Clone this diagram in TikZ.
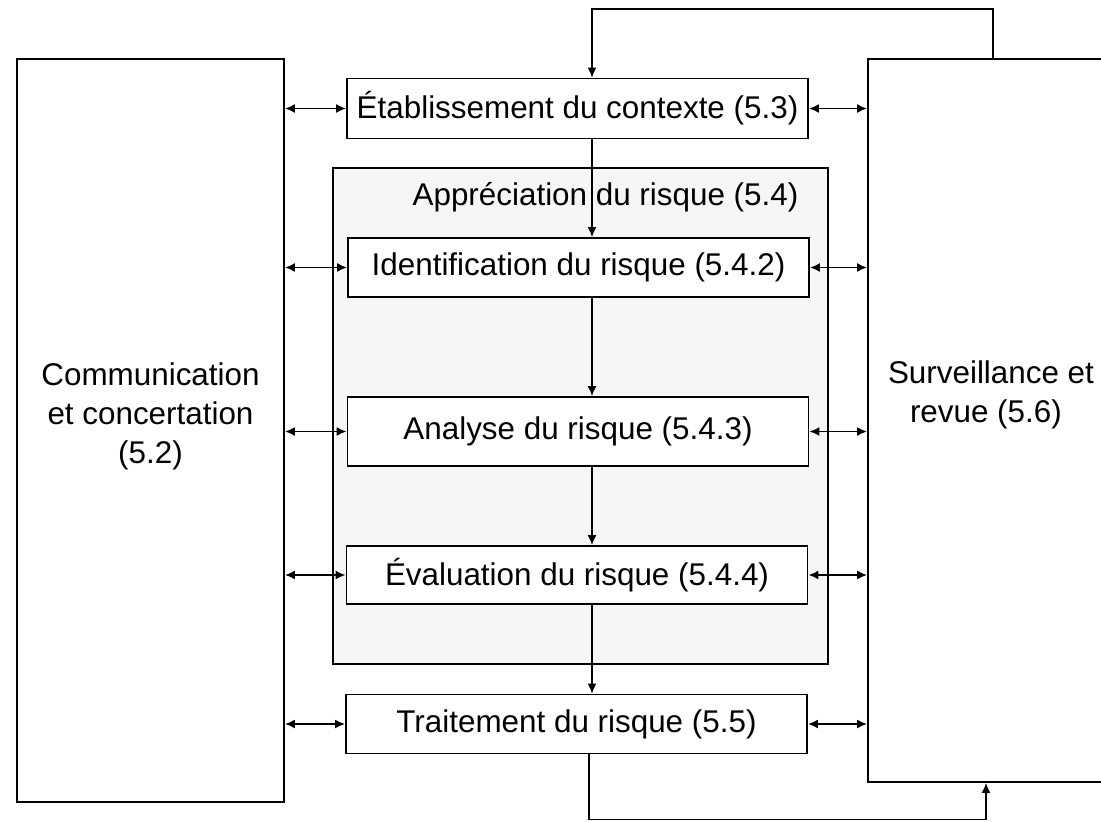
\documentclass[tikz,border=0pt]{standalone}
\usepackage{fontspec}
\setmainfont{Liberation Sans}
\usetikzlibrary{arrows.meta}
\begin{document}
\begin{tikzpicture}[x=1pt,y=-1pt,
  txt/.style={font=\fontsize{31.4}{39}\selectfont, inner sep=0pt, align=center},
  bigbox/.style={draw, line width=1.8pt, fill=white, inner sep=0pt},
  proc/.style={draw, line width=1.8pt, fill=white, minimum width=461pt, inner sep=0pt,
    font=\fontsize{31.4}{39}\selectfont},
  link/.style={line width=1.6pt, -{Latex[length=10pt,width=9pt]}},
  dlink/.style={line width=1.8pt, {Latex[length=10pt,width=9pt]}-{Latex[length=10pt,width=9pt]}}
]
\useasboundingbox (0,0) rectangle (1101,822);
\clip (0,0) rectangle (1101,822);
\fill[white] (0,0) rectangle (1101,822);

% side boxes
\node[bigbox, minimum width=267pt, minimum height=743pt] (comm) at (150.5,430.5) {};
\node[txt] (commtext) at (150.5,416) {Communication\\et concertation\\(5.2)};
\node[bigbox, minimum width=246pt, minimum height=723pt] (surv) at (991,420.5) {};
\node[txt, align=left] (survtext) at (991,395) {Surveillance et\\\hspace*{0.7em}revue (5.6)};

% risk assessment frame
\node[draw, line width=1.6pt, fill=gray!7, minimum width=495pt, minimum height=496pt, inner sep=0pt] (appr) at (580.5,416) {};
\node[txt] (apprtitle) at (605.5,197) {Appréciation du risque (5.4)};

% process boxes
\node[proc, minimum height=60pt] (etab) at (577.5,108.5) {Établissement du contexte (5.3)};
\node[proc, minimum height=59pt] (ident) at (578.5,267.5) {Identification du risque (5.4.2)};
\node[proc, minimum height=69pt] (anal) at (578,431.5) {Analyse du risque (5.4.3)};
\node[proc, minimum height=58pt] (eval) at (577,575) {Évaluation du risque (5.4.4)};
\node[proc, minimum height=59pt] (trait) at (576.5,724) {Traitement du risque (5.5)};

% vertical flow
\coordinate (ax) at (592,0);
\coordinate (bx) at (589,0);
\draw[link] (etab.south -| ax) -- (ident.north -| ax);
\draw[link] (ident.south -| ax) -- (anal.north -| ax);
\draw[link] (anal.south -| ax) -- (eval.north -| ax);
\draw[link] (eval.south -| ax) -- (trait.north -| ax);

% side links
\foreach \b in {etab,ident,anal,eval,trait}{
  \draw[dlink] (comm.east |- \b.west) -- (\b.west);
  \draw[dlink] (\b.east) -- (surv.west |- \b.east);
}

% feedback loops
\coordinate (tl) at (993,9);
\draw[link] (surv.north -| tl) -- (tl) -- (tl -| ax) -- (etab.north -| ax);
\coordinate (bl) at (986,819.5);
\draw[link] (trait.south -| bx) -- (bx |- bl) -- (bl) -- (surv.south -| bl);
\end{tikzpicture}
\end{document}
